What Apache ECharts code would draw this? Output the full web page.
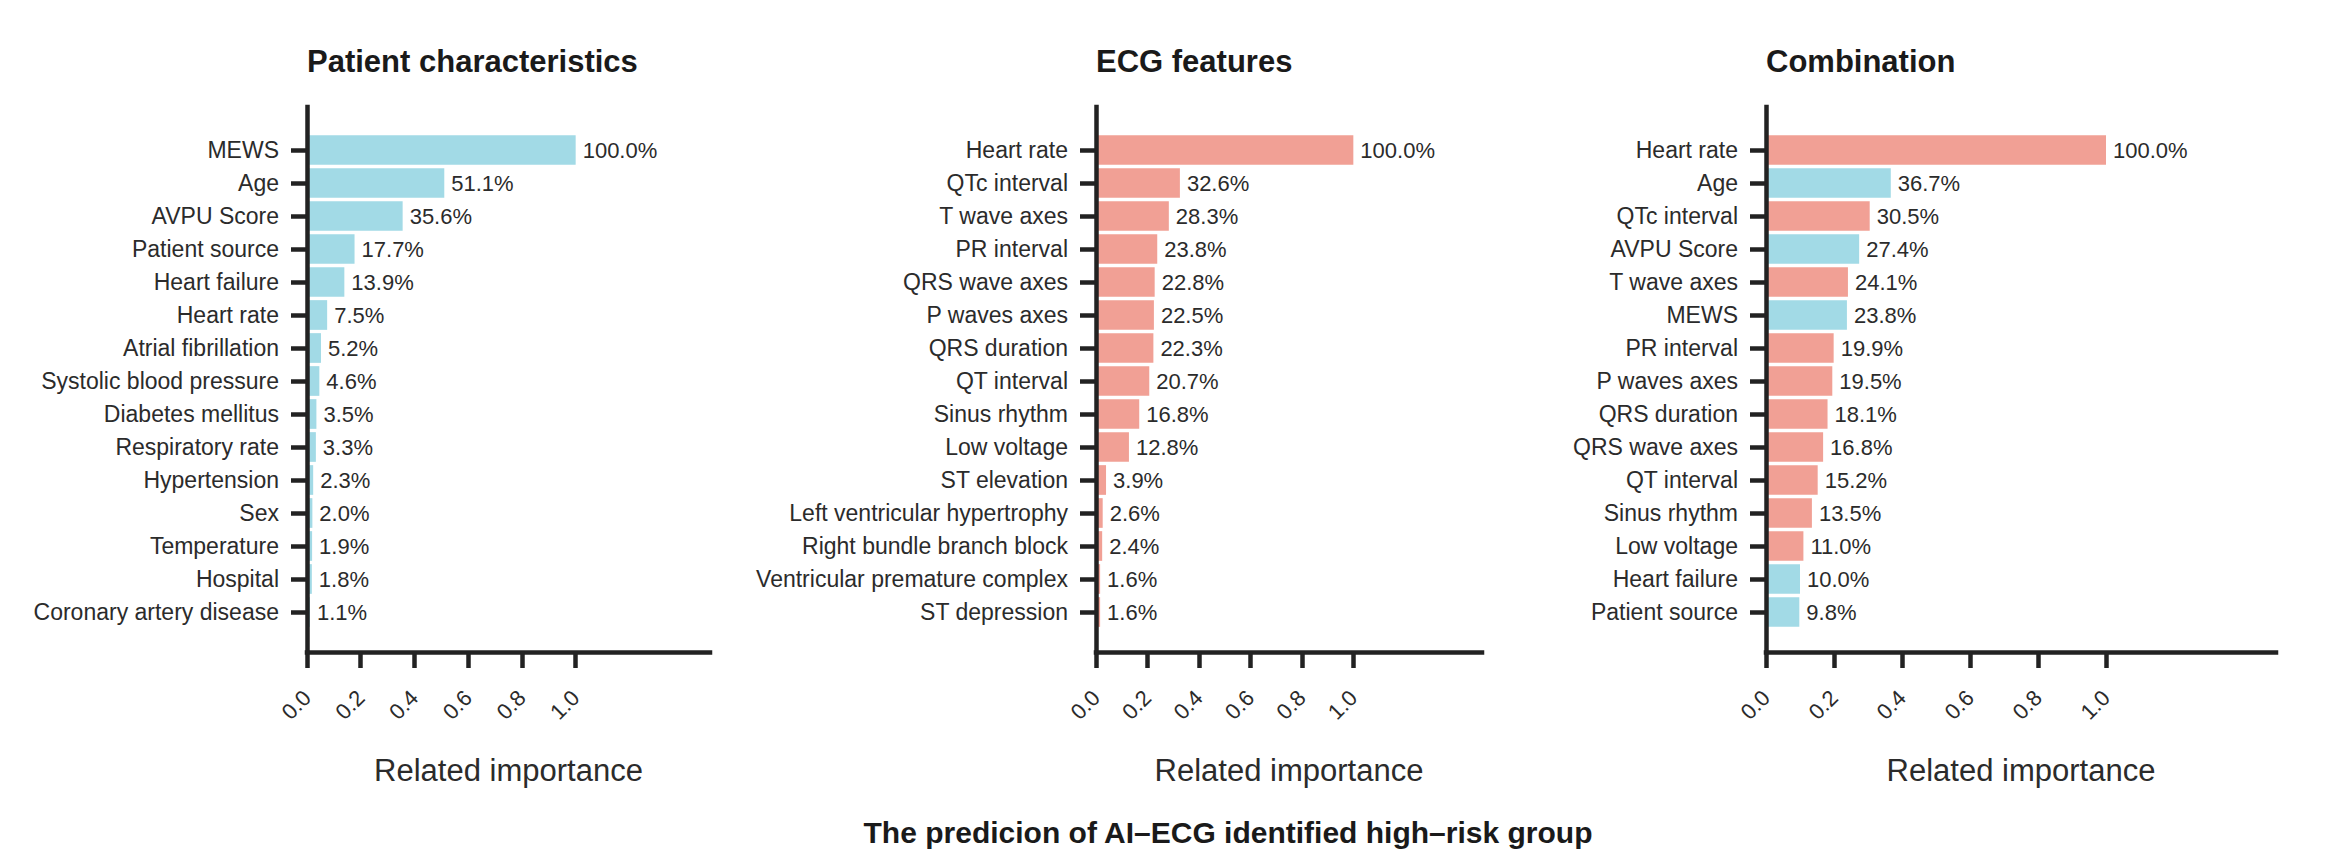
<!DOCTYPE html>
<html><head><meta charset="utf-8">
<script src="https://cdn.jsdelivr.net/npm/echarts@6/dist/echarts.min.js"></script>
<style>html,body{margin:0;padding:0;background:#fff}#c{width:2330px;height:868px}</style>
</head><body><div id="c"></div>
<script>
// ---- data ----
const patientFeatures = ['MEWS','Age','AVPU Score','Patient source','Heart failure','Heart rate','Atrial fibrillation','Systolic blood pressure','Diabetes mellitus','Respiratory rate','Hypertension','Sex','Temperature','Hospital','Coronary artery disease'];
const patientValues = [100.0,51.1,35.6,17.7,13.9,7.5,5.2,4.6,3.5,3.3,2.3,2.0,1.9,1.8,1.1];
const ecgFeatures = ['Heart rate','QTc interval','T wave axes','PR interval','QRS wave axes','P waves axes','QRS duration','QT interval','Sinus rhythm','Low voltage','ST elevation','Left ventricular hypertrophy','Right bundle branch block','Ventricular premature complex','ST depression'];
const ecgValues = [100.0,32.6,28.3,23.8,22.8,22.5,22.3,20.7,16.8,12.8,3.9,2.6,2.4,1.6,1.6];
const comboFeatures = ['Heart rate','Age','QTc interval','AVPU Score','T wave axes','MEWS','PR interval','P waves axes','QRS duration','QRS wave axes','QT interval','Sinus rhythm','Low voltage','Heart failure','Patient source'];
const comboValues = [100.0,36.7,30.5,27.4,24.1,23.8,19.9,19.5,18.1,16.8,15.2,13.5,11.0,10.0,9.8];
const comboSource = ['ECG','Patient','ECG','Patient','ECG','Patient','ECG','ECG','ECG','ECG','ECG','ECG','ECG','Patient','Patient'];
const panelTitles = ['Patient characteristics','ECG features','Combination'];
const xTickValues = [0,20,40,60,80,100];
const xAxisName = 'Related importance';
const mainTitle = 'The predicion of AI\u2013ECG identified high\u2013risk group';

// ---- style / layout ----
const FONT = '"Liberation Sans", Arial, Helvetica, sans-serif';
const BLUE = '#A2DAE6', RED = '#F1A095', INK = '#222222', TXT = '#2b2b2b';
const X_MAX = 150;
const panels = [
  {x0: 307, w: 403, names: patientFeatures, vals: patientValues, colors: patientValues.map(() => BLUE)},
  {x0: 1096, w: 386, names: ecgFeatures, vals: ecgValues, colors: ecgValues.map(() => RED)},
  {x0: 1766, w: 510, names: comboFeatures, vals: comboValues, colors: comboSource.map(s => s === 'Patient' ? BLUE : RED)}
];
const AX_TOP = 107, AX_BOTTOM = 652;
const BAR_TOP = 133.5, BAR_H = 495;

const grid = [], xAxis = [], yAxis = [], series = [], title = [];
panels.forEach((p, i) => {
  grid.push({left: p.x0, top: BAR_TOP, width: p.w, height: BAR_H, containLabel: false});
  grid.push({left: p.x0, top: AX_TOP, width: p.w, height: AX_BOTTOM - AX_TOP, containLabel: false});
  xAxis.push({gridIndex: 2 * i, type: 'value', min: 0, max: X_MAX, show: false});
  yAxis.push({
    gridIndex: 2 * i, type: 'category', inverse: true, data: p.names, z: 10,
    axisLine: {show: false},
    axisTick: {show: true, alignWithLabel: true, length: 16, lineStyle: {color: INK, width: 4.5}},
    axisLabel: {show: true, margin: 28, fontSize: 23, color: TXT, fontFamily: FONT},
    splitLine: {show: false}
  });
  xAxis.push({
    gridIndex: 2 * i + 1, type: 'value', min: 0, max: X_MAX, z: 10,
    axisLine: {show: true, lineStyle: {color: INK, width: 4.5, cap: 'square'}},
    axisTick: {show: true, customValues: xTickValues, length: 16, lineStyle: {color: INK, width: 4.5}},
    axisLabel: {show: true, customValues: xTickValues, rotate: 45, margin: 42, fontSize: 22, color: TXT, fontFamily: FONT,
      formatter: v => (v / 100).toFixed(1)},
    splitLine: {show: false},
    name: xAxisName, nameLocation: 'middle', nameGap: 103,
    nameTextStyle: {fontSize: 31, color: TXT, fontFamily: FONT}
  });
  yAxis.push({
    gridIndex: 2 * i + 1, type: 'value', min: 0, max: 1, z: 10,
    axisLine: {show: true, lineStyle: {color: INK, width: 4.5, cap: 'square'}},
    axisTick: {show: false}, axisLabel: {show: false}, splitLine: {show: false}
  });
  series.push({
    type: 'bar', xAxisIndex: 2 * i, yAxisIndex: 2 * i, barWidth: '90%',
    data: p.vals.map((v, k) => ({value: v, itemStyle: {color: p.colors[k]}})),
    label: {show: true, position: 'right', distance: 7, fontSize: 22, color: TXT, fontFamily: FONT,
      formatter: q => q.value.toFixed(1) + '%'},
    z: 2
  });
  title.push({text: panelTitles[i], left: p.x0, top: 46, padding: 0,
    textStyle: {fontSize: 31, fontWeight: 'bold', color: '#1a1a1a', fontFamily: FONT}});
});
title.push({text: mainTitle, left: 1228, textAlign: 'center', top: 817, padding: 0,
  textStyle: {fontSize: 30, fontWeight: 'bold', color: '#1a1a1a', fontFamily: FONT}});

const chart = echarts.init(document.getElementById('c'), null, {renderer: 'svg'});
chart.setOption({animation: false, backgroundColor: '#fff', title, grid, xAxis, yAxis, series});
</script></body></html>
